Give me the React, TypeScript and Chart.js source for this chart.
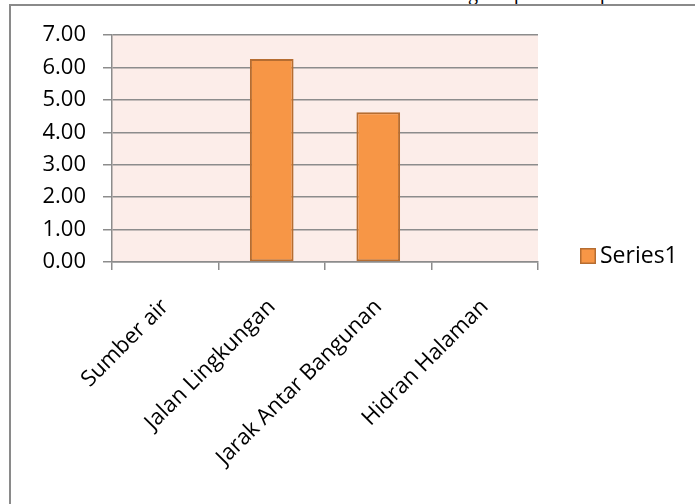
import React, { useEffect, useRef } from "react";
import { Chart, registerables } from "chart.js";

Chart.register(...registerables);

const categories = ["Sumber air", "Jalan Lingkungan", "Jarak Antar Bangunan", "Hidran Halaman"];
const series1 = [0, 6.26, 4.62, 0];
const seriesName = "Series1";
const yMin = 0;
const yMax = 7;
const yStep = 1;

const FONT = "'Open Sans', sans-serif";
const GRID = "#8c8c8c";
const BAR_FILL = "#F79646";
const BAR_EDGE = "#B66D31";
const PLOT_BG = "#FCEDE9";

const plotBg = {
  id: "plotBg",
  beforeDraw(chart: any) {
    const { ctx, chartArea } = chart;
    ctx.save();
    ctx.fillStyle = PLOT_BG;
    ctx.fillRect(chartArea.left, chartArea.top, chartArea.right - chartArea.left, chartArea.bottom - chartArea.top);
    ctx.restore();
  },
};

const sideLegend = {
  id: "sideLegend",
  afterDraw(chart: any) {
    const { ctx, chartArea } = chart;
    const ds = chart.data.datasets[0];
    const bx = chartArea.right + 42;
    const cy = chart.height / 2 + 4;
    ctx.save();
    ctx.fillStyle = ds.backgroundColor;
    ctx.strokeStyle = ds.borderColor;
    ctx.lineWidth = 1.5;
    ctx.fillRect(bx, cy - 8, 16, 16);
    ctx.strokeRect(bx + 0.75, cy - 7.25, 14.5, 14.5);
    ctx.fillStyle = "#000";
    ctx.font = `23px ${FONT}`;
    ctx.textBaseline = "middle";
    ctx.textAlign = "left";
    ctx.fillText(ds.label, bx + 20, cy);
    ctx.restore();
  },
};

export default function App() {
  const ref = useRef<HTMLCanvasElement>(null);

  useEffect(() => {
    if (!ref.current) return;
    const chart = new Chart(ref.current, {
      type: "bar",
      data: {
        labels: categories,
        datasets: [
          {
            label: seriesName,
            data: series1,
            backgroundColor: BAR_FILL,
            borderColor: BAR_EDGE,
            borderWidth: 2,
            borderSkipped: false,
            categoryPercentage: 1,
            barPercentage: 0.41,
          },
        ],
      },
      options: {
        responsive: false,
        animation: false,
        layout: { autoPadding: false, padding: { top: 35, right: 157, bottom: 0, left: 0 } },
        plugins: { legend: { display: false }, tooltip: { enabled: false } },
        scales: {
          x: {
            afterFit: (s: any) => {
              s.height = 242;
            },
            grid: { display: true, drawOnChartArea: false, drawTicks: true, tickLength: 8, color: GRID, lineWidth: 1.5, offset: true },
            border: { display: true, color: GRID, width: 1.5 },
            ticks: {
              autoSkip: false,
              minRotation: 45,
              maxRotation: 45,
              padding: 24,
              color: "#000",
              font: { family: FONT, size: 22 },
            },
          },
          y: {
            min: yMin,
            max: yMax,
            afterFit: (s: any) => {
              s.width = 112;
            },
            grid: { color: GRID, lineWidth: 1.5, drawTicks: true, tickLength: 9 },
            border: { display: true, color: GRID, width: 1.5 },
            ticks: {
              stepSize: yStep,
              padding: 17,
              color: "#000",
              font: { family: FONT, size: 22 },
              callback: (v: any) => Number(v).toFixed(2),
            },
          },
        },
      },
      plugins: [plotBg, sideLegend],
    });
    return () => chart.destroy();
  }, []);

  return (
    <div style={{ position: "absolute", left: 0, top: 0, width: 695, height: 504, overflow: "hidden", background: "#fff" }}>
      <div style={{ position: "absolute", left: 0, top: -17, width: 695, height: 22, fontFamily: "'Liberation Serif', serif", fontSize: 20, lineHeight: "20px", color: "#000" }}>
        <span style={{ position: "absolute", left: 468 }}>g</span>
        <span style={{ position: "absolute", left: 514 }}>p</span>
        <span style={{ position: "absolute", left: 600 }}>p</span>
      </div>
      <div style={{ position: "absolute", left: 9, top: 4, width: 700, height: 520, borderLeft: "2px solid #8a8a8a", borderTop: "2px solid #8a8a8a" }} />
      <canvas ref={ref} width={695} height={504} style={{ position: "absolute", left: 0, top: 0, display: "block" }} />
    </div>
  );
}
